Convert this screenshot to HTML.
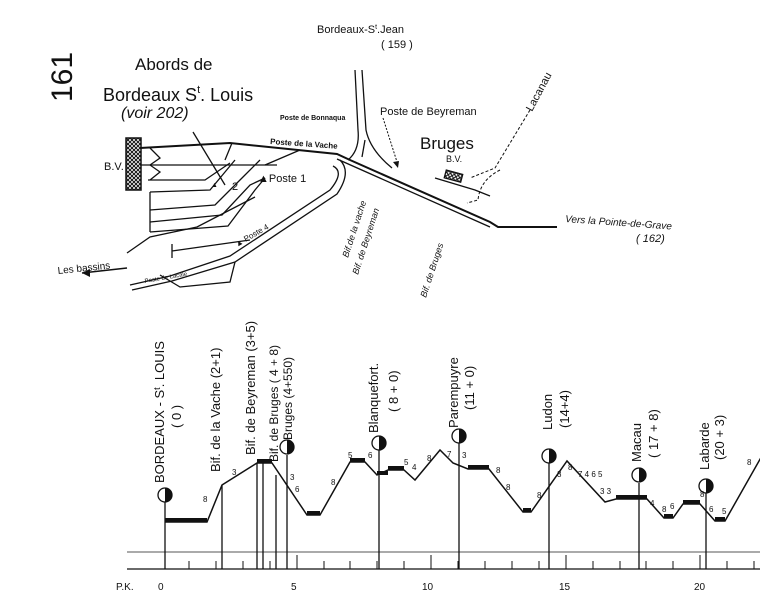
<!DOCTYPE html>
<html><head><meta charset="utf-8"><style>
html,body{margin:0;padding:0;background:#fff}
svg{display:block}
text{font-family:"Liberation Sans",sans-serif;fill:#111}
</style></head><body>
<svg width="760" height="609" viewBox="0 0 760 609" xmlns="http://www.w3.org/2000/svg">
<defs>
<pattern id="h" width="4" height="4" patternUnits="userSpaceOnUse"><rect width="4" height="4" fill="#fff"/><path d="M0 4L4 0M0 0L4 4" stroke="#111" stroke-width="1"/></pattern>
</defs>
<g stroke="#111" fill="none" stroke-width="1.3">
<rect x="126" y="138" width="15" height="52" fill="url(#h)" stroke-width="1.5"/>
<path d="M140 148 L230 143 L337 154 L350 160 L490 222 L498 227 L557 227" stroke-width="2"/>
<path d="M337 159 L490 227"/>
<path d="M140 165 L277 165"/>
<path d="M150 148 L160 158 L150 165 M150 165 L160 172 L150 180"/>
<path d="M148 180 L205 180 L230 163"/>
<path d="M150 192 L210 190 L235 160"/>
<path d="M150 192 L150 232"/>
<path d="M150 210 L215 205 L245 175 L260 160"/>
<path d="M150 222 L222 215 L250 185 L265 178"/>
<path d="M150 232 L228 226 L255 190 L265 178"/>
<path d="M193 132 L225 185"/>
<path d="M225 160 L232 143 M265 165 L300 150"/>
<path d="M333 166 Q345 172 330 190 L230 256 L170 276 L130 285"/>
<path d="M340 160 Q352 172 337 194 L235 262 L172 281 L132 290"/>
<path d="M127 253 L150 237 L197 227 L255 197"/>
<path d="M172 244 L172 258 M172 251 L250 240"/>
<path d="M160 275 L180 287 L230 282 L235 262"/>
<path d="M355 70 L358 130 Q360 150 348 160"/>
<path d="M362 70 L366 130 Q370 150 392 168"/>
<path d="M365 140 L362 157"/>
<path d="M383 118 L398 165" stroke-dasharray="2 1.5" stroke-width="1"/>
<path d="M530 110 L495 168 Q485 172 470 178" stroke-dasharray="3 2" stroke-width="1"/>
<path d="M500 170 Q480 180 478 200 L467 203" stroke-dasharray="3 2" stroke-width="1"/>
<path d="M435 178 L475 190 L490 196"/>
<rect x="445" y="172" width="17" height="8" fill="url(#h)" transform="rotate(15 453 176)"/>
<path d="M127 268 L82 273" stroke-width="1.5"/>
<path d="M127 552 L760 552" stroke="#777"/>
<path d="M127 569 L760 569"/>
<path stroke-width="1.5" d="M165 522 L207 522 L222 485 L257 463 L272 463 L307 515 L320 515 L350 462 L365 462 L377 475 L388 470 L404 470 L415 480 L440 450 L453 463 L468 469 L489 469 L523 512 L531 512 L567 461 L605 502 L616 499 L647 499 L664 518 L673 518 L683 504 L700 504 L715 521 L725 521 L763 454"/>
<path d="M165 495 L165 569 M222 485 L222 569 M257 463 L257 569 M263 463 L263 569 M276 475 L276 569 M287 455 L287 569 M379 450 L379 569 M459 443 L459 569 M549 462 L549 569 M639 483 L639 569 M706 493 L706 569"/>
</g>
<g stroke="#111" stroke-width="4">
<path d="M165 520 L207 520 M257 461 L272 461 M307 513 L320 513 M350 460 L365 460 M377 473 L388 473 M388 468 L404 468 M468 467 L489 467 M523 510 L531 510 M616 497 L647 497 M664 516 L673 516 M683 502 L700 502 M715 519 L725 519"/>
</g>
<g stroke="#111" stroke-width="1">
<path d="M189 569v-8M216 569v-8M243 569v-8M270 569v-8M297 569v-14M324 569v-8M350 569v-8M377 569v-8M404 569v-8M431 569v-14M458 569v-8M485 569v-8M512 569v-8M539 569v-8M566 569v-14M593 569v-8M620 569v-8M646 569v-8M673 569v-8M700 569v-14M727 569v-8M754 569v-8"/>
</g>
<g stroke="#111" stroke-width="1.3" fill="#fff">
<circle cx="165" cy="495" r="7"/><circle cx="287" cy="447" r="7"/><circle cx="379" cy="443" r="7"/><circle cx="459" cy="436" r="7"/><circle cx="549" cy="456" r="7"/><circle cx="639" cy="475" r="7"/><circle cx="706" cy="486" r="7"/>
</g>
<g fill="#111">
<path d="M165 488a7 7 0 0 1 0 14z"/><path d="M287 440a7 7 0 0 1 0 14z"/><path d="M379 436a7 7 0 0 1 0 14z"/><path d="M459 429a7 7 0 0 1 0 14z"/><path d="M549 449a7 7 0 0 1 0 14z"/><path d="M639 468a7 7 0 0 1 0 14z"/><path d="M706 479a7 7 0 0 1 0 14z"/>
<path d="M82 273l8-4v8z"/><path d="M398 168l-5-6 6-1z"/>
</g>
<text transform="translate(72,102) rotate(-90)" font-size="30">161</text>
<text x="135" y="70" font-size="17">Abords de</text>
<text x="103" y="101" font-size="18">Bordeaux S<tspan font-size="11" dy="-8">t</tspan><tspan dy="8">. Louis</tspan></text>
<text x="121" y="118" font-size="16" font-style="italic">(voir 202)</text>
<text x="104" y="170" font-size="11">B.V.</text>
<text x="317" y="33" font-size="11">Bordeaux-S<tspan font-size="7" dy="-4">t</tspan><tspan dy="4">.Jean</tspan></text>
<text x="381" y="48" font-size="11">( 159 )</text>
<text x="380" y="115" font-size="11">Poste de Beyreman</text>
<text x="420" y="149" font-size="17">Bruges</text>
<text x="446" y="162" font-size="9">B.V.</text>
<text transform="translate(532,112) rotate(-62)" font-size="11">Lacanau</text>
<text transform="translate(565,222) rotate(4)" font-size="10" font-style="italic">Vers la Pointe-de-Grave</text>
<text x="636" y="242" font-size="11" font-style="italic">( 162)</text>
<text x="280" y="120" font-size="7" font-weight="bold">Poste de Bonnaqua</text>
<text x="270" y="144" font-size="8" font-weight="bold" transform="rotate(4 270 144)">Poste de la Vache</text>
<text x="258" y="182" font-size="11">▲Poste 1</text>
<text x="211" y="187" font-size="7">▲</text><text x="232" y="190" font-size="11">2</text>
<text transform="translate(237,247) rotate(-30)" font-size="8">▲ Poste 4</text>
<text x="145" y="283" font-size="6" transform="rotate(-10 145 283)">Poste de Lacale</text>
<text transform="translate(58,274) rotate(-6)" font-size="10">Les bassins</text>
<text transform="translate(348,258) rotate(-72)" font-size="9" font-style="italic">Bif.de la vache</text>
<text transform="translate(358,275) rotate(-72)" font-size="9" font-style="italic">Bif. de Beyreman</text>
<text transform="translate(426,298) rotate(-72)" font-size="9" font-style="italic">Bif. de Bruges</text>
<g font-size="13">
<text transform="translate(164,483) rotate(-90)">BORDEAUX - S<tspan font-size="9" dy="-4">t</tspan><tspan dy="4">. LOUIS</tspan></text>
<text transform="translate(181,428) rotate(-90)">( 0 )</text>
<text transform="translate(220,472) rotate(-90)">Bif. de la Vache (2+1)</text>
<text transform="translate(255,455) rotate(-90)">Bif. de Beyreman (3+5)</text>
<text transform="translate(278,462) rotate(-90)" font-size="12">Bif. de Bruges ( 4 + 8)</text>
<text transform="translate(292,440) rotate(-90)" font-size="12">Bruges (4+550)</text>
<text transform="translate(378,433) rotate(-90)">Blanquefort.</text>
<text transform="translate(398,412) rotate(-90)">( 8 + 0)</text>
<text transform="translate(458,428) rotate(-90)">Parempuyre</text>
<text transform="translate(474,410) rotate(-90)">(11 + 0)</text>
<text transform="translate(552,430) rotate(-90)">Ludon</text>
<text transform="translate(569,428) rotate(-90)">(14+4)</text>
<text transform="translate(641,462) rotate(-90)">Macau</text>
<text transform="translate(658,458) rotate(-90)">( 17 + 8)</text>
<text transform="translate(709,470) rotate(-90)">Labarde</text>
<text transform="translate(724,460) rotate(-90)">(20 + 3)</text>
</g>
<g font-size="8">
<text x="203" y="502">8</text><text x="232" y="475">3</text><text x="290" y="480">3</text><text x="295" y="492">6</text>
<text x="331" y="485">8</text><text x="348" y="458">5</text><text x="368" y="458">6</text><text x="404" y="465">5</text>
<text x="412" y="470">4</text><text x="427" y="461">8</text><text x="447" y="457">7</text><text x="462" y="458">3</text>
<text x="496" y="473">8</text><text x="506" y="490">8</text><text x="537" y="498">8</text><text x="557" y="477">3</text>
<text x="568" y="470">8</text><text x="578" y="477">7 4 6 5</text><text x="600" y="494">3 3</text><text x="650" y="506">4</text>
<text x="662" y="512">8</text><text x="670" y="509">6</text><text x="700" y="497">8</text><text x="709" y="512">6</text><text x="722" y="514">5</text><text x="747" y="465">8</text>
</g>
<g font-size="10">
<text x="116" y="590">P.K.</text><text x="158" y="590">0</text><text x="291" y="590">5</text><text x="422" y="590">10</text><text x="559" y="590">15</text><text x="694" y="590">20</text>
</g>
</svg>
</body></html>
